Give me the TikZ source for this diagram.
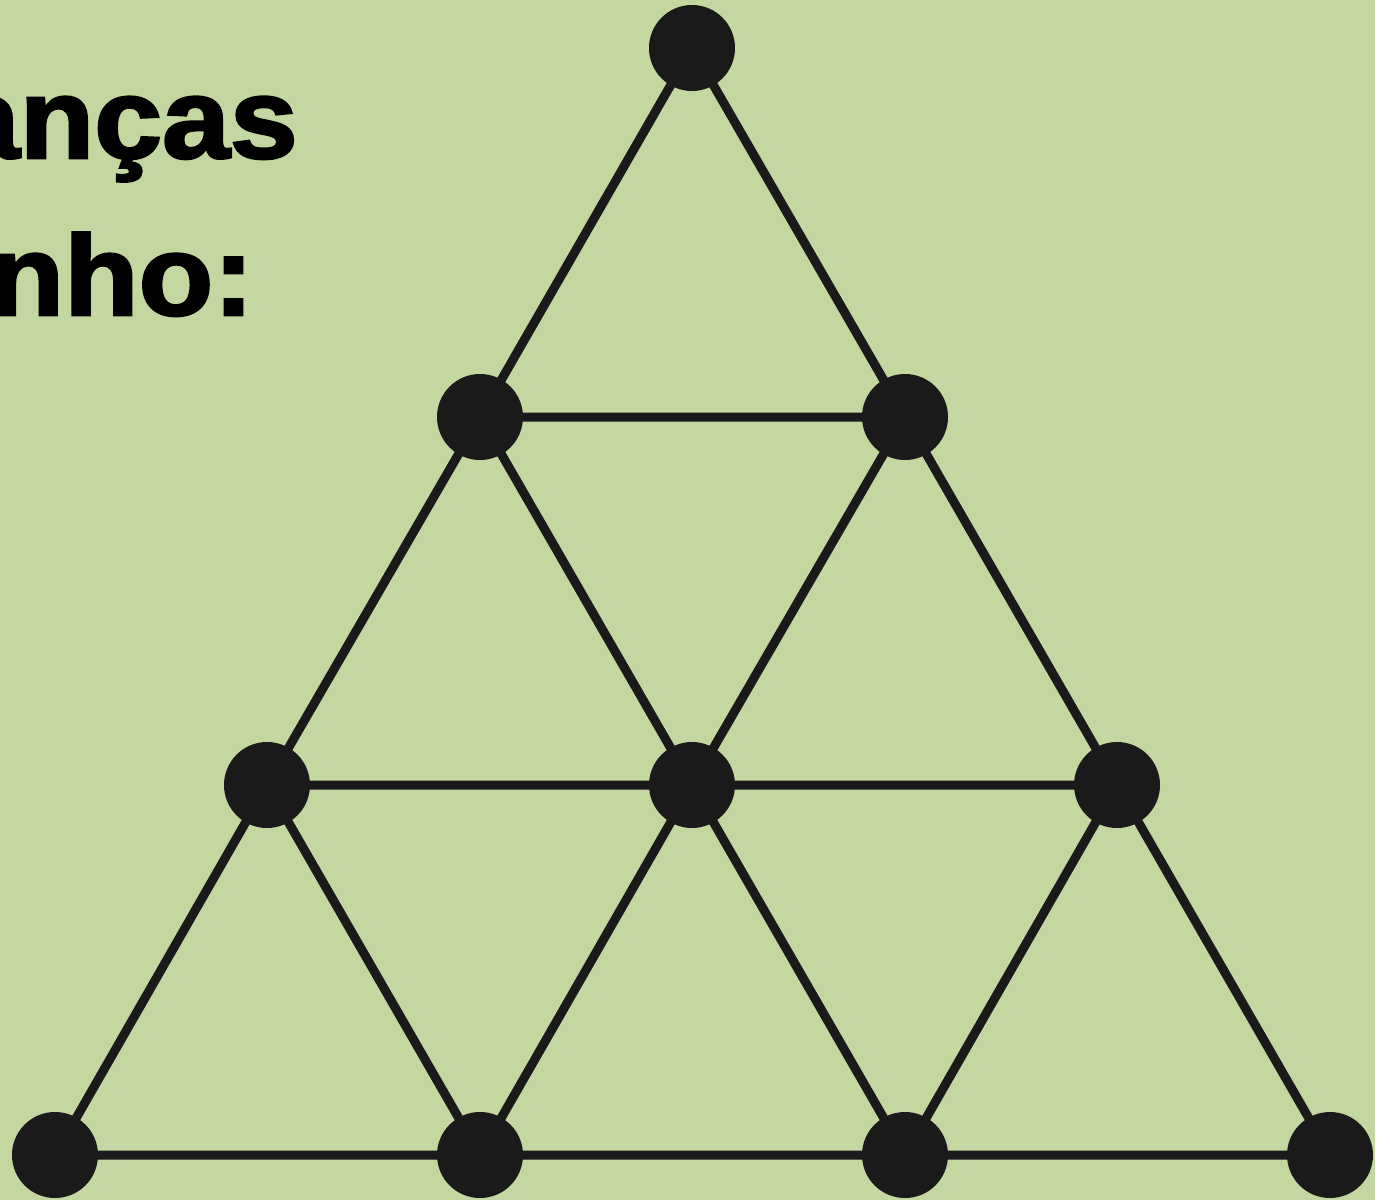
\documentclass[tikz,border=0pt]{standalone}
\usepackage{fontspec}
\setmainfont{Liberation Sans}
\newfontfamily\heavyfont[FakeBold=2.2]{Liberation Sans Bold}
\definecolor{bg}{RGB}{197,215,160}
\definecolor{dot}{RGB}{26,26,26}
\begin{document}
\begin{tikzpicture}[x=1pt,y=-1pt,
  vtx/.style={circle,fill=dot,inner sep=0pt,minimum size=86pt},
  edge/.style={line width=9pt,draw=dot},
  lbl/.style={anchor=base east,inner sep=0pt,xscale=1.07,font=\fontsize{114}{114}\selectfont\heavyfont}]
\useasboundingbox (0,0) rectangle (1390,1200);
\fill[white] (0,0) rectangle (1390,1200);
\fill[bg] (0,0) rectangle (1375,1200);
\begin{scope}
\clip (0,0) rectangle (1375,1200);
\node[lbl] (t1) at (298,158) {anças};
\node[lbl] (t2) at (254,315) {nho:};
\end{scope}
\coordinate (a) at (692,48);
\coordinate (b1) at (480,417);
\coordinate (b2) at (905,417);
\coordinate (c1) at (267,785);
\coordinate (c2) at (692,785);
\coordinate (c3) at (1117,785);
\coordinate (d1) at (55,1155);
\coordinate (d2) at (480,1155);
\coordinate (d3) at (905,1155);
\coordinate (d4) at (1330,1155);
\draw[edge] (a)--(b1) (a)--(b2) (b1)--(b2)
  (b1)--(c1) (b1)--(c2) (b2)--(c2) (b2)--(c3) (c1)--(c2)--(c3)
  (c1)--(d1) (c1)--(d2) (c2)--(d2) (c2)--(d3) (c3)--(d3) (c3)--(d4)
  (d1)--(d2)--(d3)--(d4);
\foreach \p in {a,b1,b2,c1,c2,c3,d1,d2,d3,d4}
  \node[vtx] (n\p) at (\p) {};
\end{tikzpicture}
\end{document}
